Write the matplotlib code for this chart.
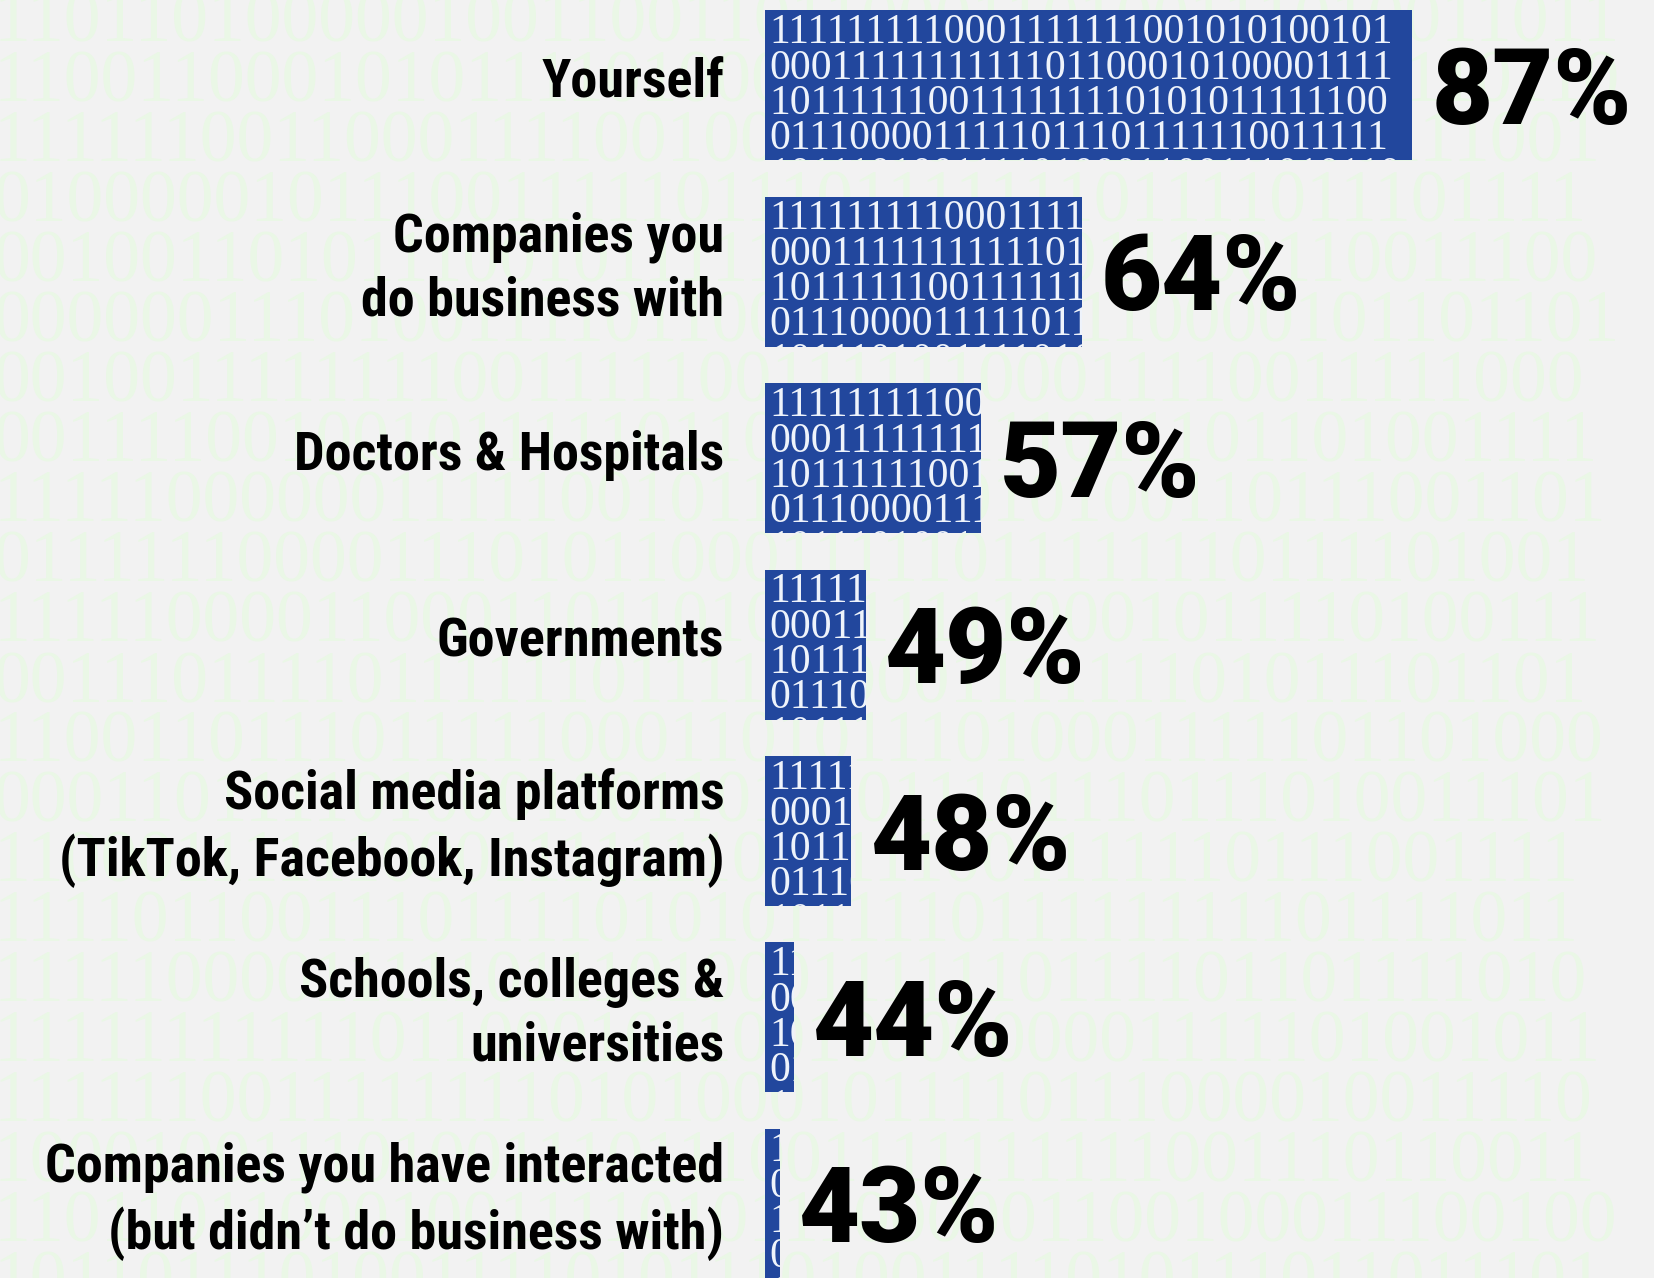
import os

import matplotlib
matplotlib.use("Agg")
import matplotlib.pyplot as plt
from matplotlib import font_manager
from matplotlib.font_manager import FontProperties
from matplotlib.textpath import TextPath


categories = [
    "Yourself",
    "Companies you\ndo business with",
    "Doctors & Hospitals",
    "Governments",
    "Social media platforms\n(TikTok, Facebook, Instagram)",
    "Schools, colleges &\nuniversities",
    "Companies you have interacted\n(but didn\u2019t do business with)",
]
values = [87, 64, 57, 49, 48, 44, 43]
value_labels = [f"{v}%" for v in values]

# binary texture printed inside the bars (same pattern, cut by the bar length)
bar_digit_rows = [
    "1010011010011100110011110111001",
    "1111111110001111111001010100101",
    "0001111111111101100010100001111",
    "1011111100111111110101011111100",
    "0111000011111011101111110011111",
    "1011101001111010001100111010110",
]

# faint binary texture behind the whole chart
background_rows = [
    "110110100000100110011011000110100111010011011",
    "110011000101011110100010111011001010010110110",
    "111111001100011110010011100011011110100111001",
    "010000010111001111101110111111101111011101111",
    "001001101011100101111111111100011100110011100",
    "000000111010011110110010000110110000101101101",
    "001001111111100111110011111100011110011111000",
    "001111001001011111011001101111011101101001111",
    "111110000001111100101101110010100110111001101",
    "011111100001110101100011111011111110111101001",
    "111110000110001101101001111110001011110100111",
    "001110111101111110111101000111111101011101101",
    "110011011101111100011010111010001111101101000",
    "000110111101000100110111011101110111010011101",
    "110001111110001111111001111001111110111001111",
    "111101100111011110101011111011111111101111011",
    "111110000111110111010001111110111101101111010",
    "111111111110110001011001000000001111101001011",
    "111111001111111101010001011110111000010011110",
    "100010011101001110111001111111111001110110011",
    "110110110001001111010111000001100100011100100",
    "101101110100111101011101001111010111011011101",
]

AXIS_START = 42
BAR_COLOR = "#22479d"
BG_COLOR = "#f2f2f2"
BG_DIGIT_COLOR = "#eaf7e6"
DPI = 100


def find_font_file(candidates):
    files = {}
    for f in font_manager.fontManager.ttflist:
        key = os.path.basename(f.fname).lower().replace("-", "").replace("_", "")
        files.setdefault(key, f.fname)
    for c in candidates:
        if c in files:
            return files[c]
    return None


label_file = find_font_file([
    "liberationsansnarrowbold.ttf",
    "notosansextracondensedbold.ttf",
    "notosanscondensedbold.ttf",
    "robotocondensedbold.ttf",
    "opensanscondbold.ttf",
    "notosanssemicondensedbold.ttf",
    "dejavusanscondensedbold.ttf",
])
number_file = find_font_file([
    "notosanscondensedblack.ttf",
    "notosanssemicondensedblack.ttf",
    "notosansextracondensedblack.ttf",
    "robotoblack.ttf",
    "latoblack.ttf",
    "notosansblack.ttf",
    "interblack.ttf",
    "liberationsansbold.ttf",
])


def make_prop(fname, fallback_family):
    if fname:
        return FontProperties(fname=fname)
    return FontProperties(family=fallback_family, weight="bold")


def fitted_size(prop, text, width_px, cap_px):
    # font size (pt) that gives the wanted width, limited by the cap height
    w = TextPath((0, 0), text, size=10, prop=prop).get_extents().width * DPI / 72
    h = TextPath((0, 0), "H", size=10, prop=prop).get_extents().height * DPI / 72
    return min(10 * width_px / w, 10 * cap_px / h)


label_prop = make_prop(label_file, "DejaVu Sans")
number_prop = make_prop(number_file, "DejaVu Sans")
label_size = fitted_size(label_prop, "Doctors & Hospitals", 425, 43)
number_size = fitted_size(number_prop, "87%", 203, 75)
label_prop.set_size(label_size)
number_prop.set_size(number_size)
l_asc = TextPath((0, 0), "l", size=label_size, prop=label_prop).get_extents().ymax * DPI / 72
label_linespacing = 0.85 * 63 / l_asc
digit_h = TextPath((0, 0), "8", size=number_size, prop=number_prop).get_extents().height * DPI / 72

fig = plt.figure(figsize=(16.54, 12.78), dpi=DPI)
fig.patch.set_facecolor(BG_COLOR)
ax = fig.add_axes([0, 0, 1, 1])
ax.set_xlim(-11.2, 103.8)
ax.set_ylim(6.398, -0.458)
ax.axis("off")

fig_h = 1278.0
px_y = 186.4  # pixels per category step
px_x = 14.38  # pixels per percent

# background digits
for k, row in enumerate(background_rows):
    y_center = 18 + 60 * k
    ax.text(
        -0.004, 1 - (y_center + 24) / fig_h, row,
        transform=ax.transAxes, family="Liberation Serif", fontsize=53,
        color=BG_DIGIT_COLOR, va="baseline", ha="left", zorder=0.5,
    )

y_pos = list(range(len(categories)))
bar_h = 0.804
bars = ax.barh(
    y_pos, [v - AXIS_START for v in values], left=AXIS_START,
    height=bar_h, color=BAR_COLOR, zorder=2,
)

row_centers_px = [-18, 19, 55, 90, 125, 162]
for i, patch in enumerate(bars.patches):
    top = y_pos[i] - bar_h / 2
    for row, c in zip(bar_digit_rows, row_centers_px):
        t = ax.text(
            AXIS_START + 0.3, top + (c + 13.5) / px_y, row,
            family="Liberation Serif", fontsize=30, color="#eef3fb",
            va="baseline", ha="left", zorder=3, clip_on=True,
        )
        t.set_clip_path(patch)

for i, (lab, v, vl) in enumerate(zip(categories, values, value_labels)):
    ax.text(
        AXIS_START - 41 / px_x, y_pos[i] - 3 / px_y, lab,
        ha="right", va="center", multialignment="right",
        fontproperties=label_prop, linespacing=label_linespacing,
        color="black", zorder=4,
    )
    ax.text(
        v + 19 / px_x, y_pos[i] + (digit_h / 2) / px_y, vl,
        ha="left", va="baseline", fontproperties=number_prop,
        color="black", zorder=4,
    )

fig.savefig("out.png", dpi=DPI, facecolor=fig.get_facecolor())
plt.close(fig)
